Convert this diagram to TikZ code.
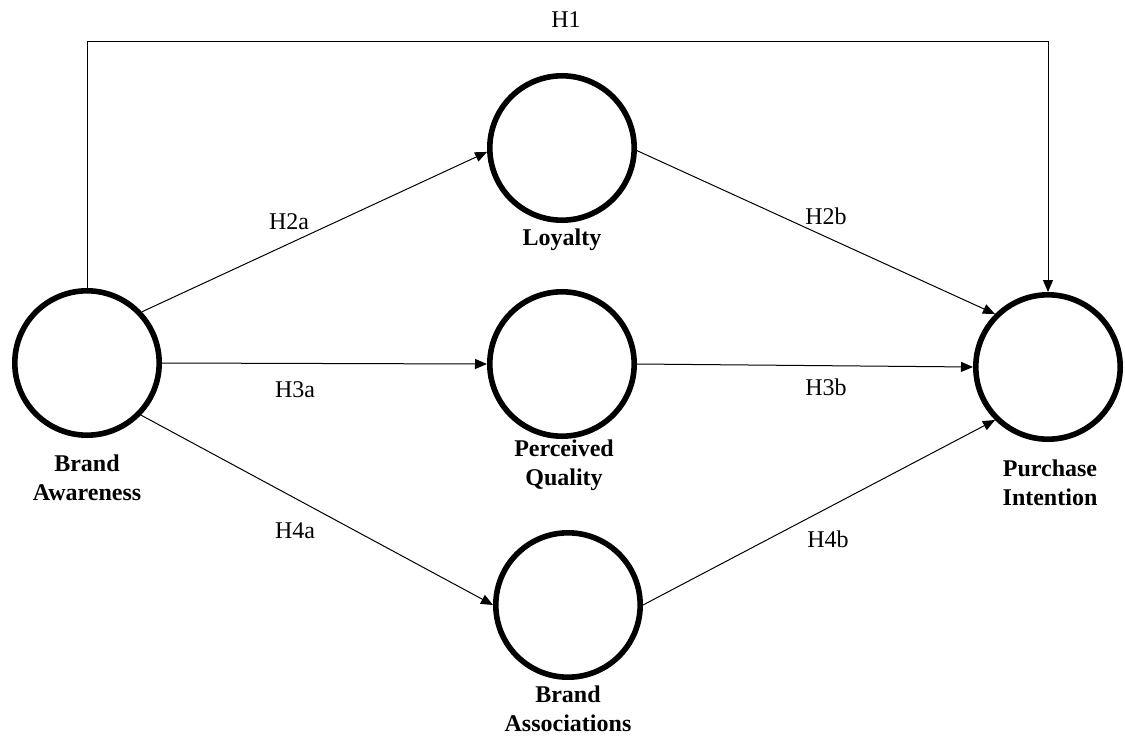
\documentclass[tikz,border=0pt]{standalone}
\usepackage{fontspec}
\setmainfont{Liberation Serif}
\usetikzlibrary{arrows.meta}
\begin{document}
\begin{tikzpicture}[x=0.75pt,y=-0.75pt,
  construct/.style={circle, draw, line width=4.2pt, minimum size=108.3pt, inner sep=0pt},
  lbl/.style={font=\fontsize{18}{21.75}\selectfont\bfseries, align=center, inner sep=0pt},
  hyp/.style={font=\fontsize{18}{21.75}\selectfont, inner sep=0pt},
  link/.style={draw, line width=0.75pt, -{Triangle[length=9pt,width=7.5pt]}}]
\useasboundingbox (0,0) rectangle (1125,736);
% constructs
\node[construct] (BA) at (87,363) {};
\node[construct] (LO) at (562,148) {};
\node[construct] (PQ) at (562,364) {};
\node[construct] (AS) at (568,605) {};
\node[construct] (PI) at (1048,367) {};
% labels
\node[lbl] (tBA) at (87,478) {Brand\\Awareness};
\node[lbl] (tLO) at (562,240) {Loyalty};
\node[lbl] (tPQ) at (564,465) {Perceived\\Quality};
\node[lbl] (tAS) at (568,709) {Brand\\Associations};
\node[lbl] (tPI) at (1050,483) {Purchase\\Intention};
% connectors
\coordinate (top) at (0,41);
\draw[link] (BA.north) -- (BA.north |- top) -| (PI.north);
\draw[link] (BA.43) -- (LO.183);
\draw[link] (BA.east) -- (PQ.west);
\draw[link] (BA.-44) -- (AS.west);
\draw[link] (LO.-2) -- (PI.135);
\draw[link] (PQ.east) -- (PI.west);
\draw[link] (AS.east) -- (PI.225);
% hypothesis labels
\node[hyp] (h1) at (566,20) {H1};
\node[hyp] (h2a) at (289,222) {H2a};
\node[hyp] (h3a) at (295,390) {H3a};
\node[hyp] (h4a) at (295,531) {H4a};
\node[hyp] (h2b) at (826,216) {H2b};
\node[hyp] (h3b) at (826,387) {H3b};
\node[hyp] (h4b) at (828,539) {H4b};
\end{tikzpicture}
\end{document}
